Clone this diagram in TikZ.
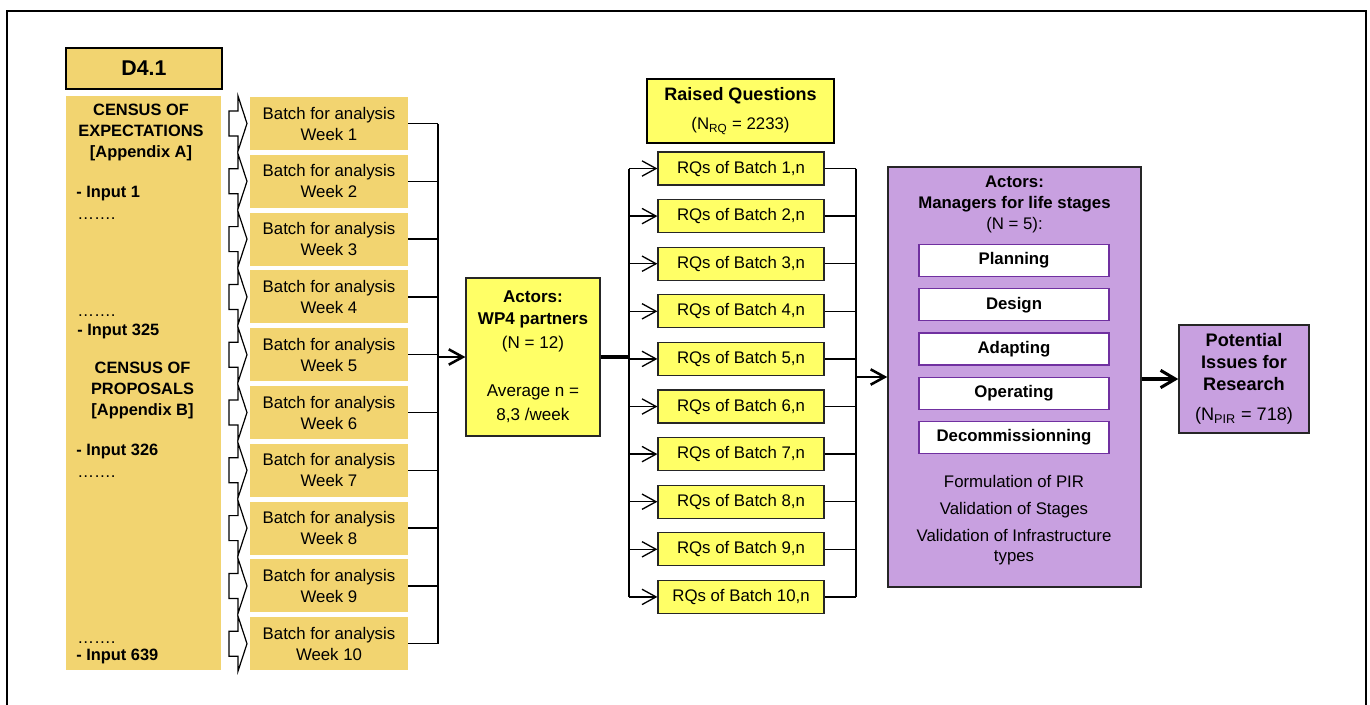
\documentclass[tikz,border=0pt]{standalone}
\usepackage{fontspec}
\setmainfont{Liberation Sans}
\usetikzlibrary{arrows.meta}
\definecolor{gold}{RGB}{242,212,112}
\definecolor{lemon}{RGB}{255,255,102}
\definecolor{lilac}{RGB}{200,160,224}
\definecolor{violetline}{RGB}{112,48,160}
\begin{document}
\begin{tikzpicture}[x=0.75pt,y=-0.75pt,
  base/.style={font=\fontsize{12.6}{15.75}\selectfont, inner sep=0pt, align=center},
  boldtxt/.style={base, font=\bfseries\fontsize{12.3}{15.75}\selectfont},
  batchbox/.style={base, fill=gold, minimum width=118.5pt, minimum height=39.75pt},
  rqbox/.style={base, fill=lemon, draw=black!85, line width=0.9pt, minimum width=124.5pt, minimum height=24.75pt},
  stagebox/.style={base, font=\bfseries\fontsize{12.6}{15}\selectfont, fill=white, draw=violetline, line width=1.1pt, minimum width=142.5pt, minimum height=24pt},
  link/.style={line width=1pt},
  trunk/.style={line width=1.5pt},
  barb/.style={-{Straight Barb[length=10.5pt,width=11.5pt]}},
  hollow/.style={fill=white, draw=black, line width=0.9pt, line join=miter}
]
\useasboundingbox (0,0) rectangle (1370,704);

% outer frame (open at the bottom edge)
\draw[line width=1.5pt] (6.5,712) -- (6.5,11) -- (1365.5,11) -- (1365.5,712);

% ---------- source column ----------
\node[base, font=\bfseries\fontsize{16}{18}\selectfont, fill=gold, draw=black, line width=1.5pt,
      minimum width=117pt, minimum height=30.75pt] (d41) at (144,68.5) {D4.1};
\node[fill=gold, inner sep=0pt, minimum width=116.25pt, minimum height=430.5pt] (col) at (143.5,383) {};

\node[boldtxt] (censA) at (141,132) {CENSUS OF\\EXPECTATIONS\\{[Appendix A]}};
\node[boldtxt, anchor=west] (in1) at (76,194) {- Input 1};
\node[base, anchor=base west] (dotsA) at (77,219) {…….};
\node[base, anchor=base west] (dotsB) at (77,316) {…….};
\node[boldtxt, anchor=west] (in325) at (77,331) {- Input 325};
\node[boldtxt] (censB) at (142.5,390.5) {CENSUS OF\\PROPOSALS\\{[Appendix B]}};
\node[boldtxt, anchor=west] (in326) at (76,451) {- Input 326};
\node[base, anchor=base west] (dotsC) at (77,477) {…….};
\node[base, anchor=base west] (dotsD) at (77,643) {…….};
\node[boldtxt, anchor=west] (in639) at (76,656) {- Input 639};

% ---------- weekly batches ----------
\coordinate (t1) at (438,0);
\foreach \i in {1,...,10} {
  \pgfmathsetmacro\c{123.5+(\i-1)*57.8}
  \draw[hollow] (229,{\c-12.5}) -- (238,{\c-12.5}) -- (238,{\c-27.5}) -- (247,\c)
        -- (238,{\c+27.5}) -- (238,{\c+12.5}) -- (229,{\c+12.5}) -- cycle;
  \node[batchbox] (b\i) at (329,\c) {Batch for analysis\\Week \i};
  \draw[link] (b\i.east) -- (b\i.east -| t1);
}
\draw[trunk] (b1.east -| t1) -- (b10.east -| t1);

% ---------- WP4 partners ----------
\node[base, font=\fontsize{12.8}{16.5}\selectfont, fill=lemon, draw=black!85, line width=0.9pt,
      minimum width=100.5pt, minimum height=118.5pt] (wp4) at (533,357)
  {\textbf{Actors:}\\\textbf{WP4 partners}\\[1.5pt](N = 12)\\[19.5pt]Average n =\\[1.5pt]8,3 /week};
\draw[line width=1.9pt, barb] (wp4.west -| t1) -- (wp4.west);

% ---------- raised questions ----------
\node[base, fill=lemon, draw=black, line width=1.3pt, minimum width=140.25pt, minimum height=48pt]
  (rqhead) at (740.5,111) {{\bfseries\fontsize{13.5}{16}\selectfont Raised Questions}\\[6pt](N\textsubscript{RQ} = 2233)};

\coordinate (t2) at (629,0);
\coordinate (t3) at (856,0);
\foreach \i in {1,...,10} {
  \pgfmathsetmacro\c{168.5+(\i-1)*47.6}
  \node[rqbox] (rq\i) at (741,\c) {RQs of Batch \i,n};
  \draw[link, barb] (rq\i.west -| t2) -- (rq\i.west);
  \draw[link] (rq\i.east) -- (rq\i.east -| t3);
}
\draw[line width=2.3pt] (wp4.east) -- (wp4.east -| t2);
\draw[trunk] (rq1.west -| t2) -- (rq10.west -| t2);
\draw[trunk] (rq1.east -| t3) -- (rq10.east -| t3);

% ---------- managers for life stages ----------
\node[fill=lilac, draw=black!85, line width=1.1pt, inner sep=0pt,
      minimum width=189.75pt, minimum height=315pt] (mgr) at (1014.5,377) {};
\node[base, font=\fontsize{12.6}{15.75}\selectfont] (mgrhead) at (1014.5,204)
  {\textbf{Actors:}\\\textbf{Managers for life stages}\\(N = 5):};
\node[stagebox] (s1) at (1014,260.5) {Planning};
\node[stagebox] (s2) at (1014,304.75) {Design};
\node[stagebox] (s3) at (1014,349) {Adapting};
\node[stagebox] (s4) at (1014,393.25) {Operating};
\node[stagebox] (s5) at (1014,437.5) {Decommissionning};
\node[base, font=\fontsize{12.6}{15}\selectfont] (mgrnotes) at (1014,520)
  {Formulation of PIR\\[5.25pt]Validation of Stages\\[5.25pt]Validation of Infrastructure\\types};
\draw[line width=1.9pt, barb] (mgr.west -| t3) -- (mgr.west);

% ---------- potential issues for research ----------
\node[base, font=\fontsize{13.6}{16.5}\selectfont, fill=lilac, draw=black!85, line width=1.1pt,
      minimum width=97.5pt, minimum height=81pt] (pir) at (1244,379)
  {\textbf{Potential}\\\textbf{Issues for}\\\textbf{Research}\\[6pt](N\textsubscript{PIR} = 718)};
\draw[line width=2.3pt, -{Straight Barb[length=11pt,width=13pt]}] (pir.west -| mgr.east) -- (pir.west);

\end{tikzpicture}
\end{document}
